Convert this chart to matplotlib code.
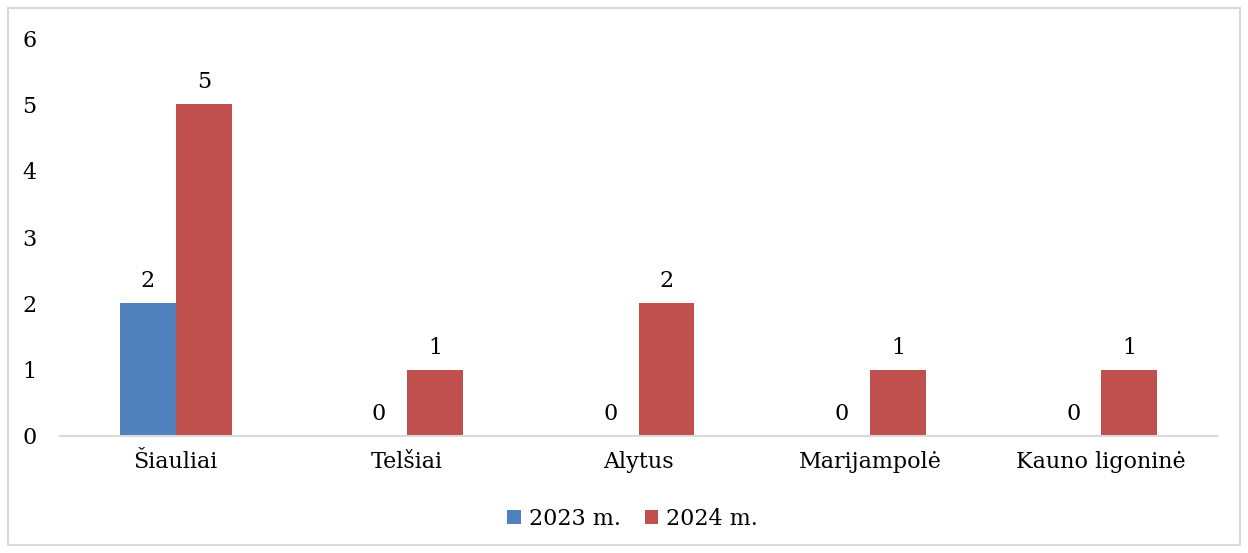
import matplotlib.pyplot as plt
import matplotlib.patches as mpatches
import numpy as np

# duomenys
kategorijos = ['Šiauliai', 'Telšiai', 'Alytus', 'Marijampolė', 'Kauno ligoninė']
reiksmes_2023 = [2, 0, 0, 0, 0]
reiksmes_2024 = [5, 1, 2, 1, 1]
serijos = ['2023 m.', '2024 m.']

MELYNA = '#4f81bd'
RAUDONA = '#c0504d'

plt.rcParams['font.family'] = ['DejaVu Serif']

fig = plt.figure(figsize=(12.48, 5.53), dpi=100)
ax = fig.add_axes([60 / 1248, 0.2116, 1157 / 1248, 0.7194])

x = np.arange(len(kategorijos))
plotis = 0.242
stulp1 = ax.bar(x - plotis / 2, reiksmes_2023, plotis, color=MELYNA, label=serijos[0])
stulp2 = ax.bar(x + plotis / 2, reiksmes_2024, plotis, color=RAUDONA, label=serijos[1])

for stulp in (stulp1, stulp2):
    ax.bar_label(stulp, padding=8, fontsize=16)

ax.set_xlim(-0.5, len(kategorijos) - 0.5)
ax.set_ylim(0, 6)
ax.set_yticks(range(0, 7))
ax.set_xticks(x)
ax.set_xticklabels(kategorijos, fontsize=16)
ax.tick_params(axis='y', labelsize=16, length=0, pad=17)
ax.tick_params(axis='x', length=0, pad=11)
for kr in ('top', 'right', 'left'):
    ax.spines[kr].set_visible(False)
ax.spines['bottom'].set_color('#d9d9d9')
ax.spines['bottom'].set_linewidth(1.5)

ax.legend(loc='center', bbox_to_anchor=(0.507, 0.062), bbox_transform=fig.transFigure,
          ncol=2, frameon=False, fontsize=16, handlelength=0.6, handleheight=0.6,
          handletextpad=0.35, columnspacing=1.1)

# remelis aplink diagrama
fig.patches.append(mpatches.Rectangle((8 / 1248, 8 / 553), 1 - 16 / 1248, 1 - 16 / 553,
                                      transform=fig.transFigure, fill=False,
                                      edgecolor='#d9d9d9', linewidth=1.5))

fig.savefig('out.png', dpi=100)
